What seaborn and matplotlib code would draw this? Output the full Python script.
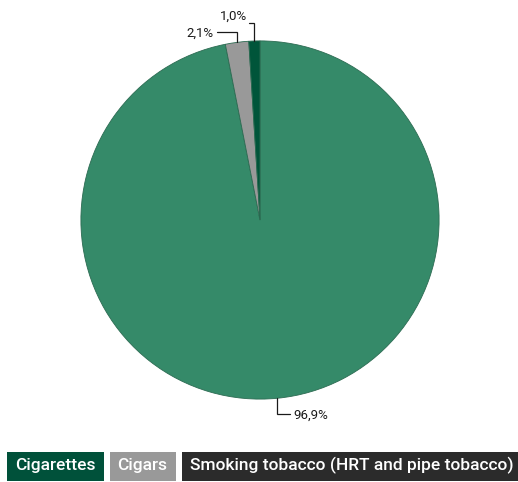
import matplotlib
matplotlib.use("Agg")
import matplotlib.pyplot as plt
from matplotlib.patches import Rectangle
import seaborn as sns
import numpy as np

# Share of tobacco consumption by product type
categories = ["Cigarettes", "Cigars", "Smoking tobacco (HRT and pipe tobacco)"]
shares = [96.9, 2.1, 1.0]
slice_colors = ["#358a69", "#999999", "#00553a"]
legend_colors = ["#00513a", "#999999", "#2b2b2b"]

sns.set_theme(style="white")
plt.rcParams["font.family"] = ["Roboto", "DejaVu Sans"]

W, H = 518, 482
fig = plt.figure(figsize=(W / 100, H / 100), dpi=100)
ax = fig.add_axes([80 / W, 82 / H, 360 / W, 360 / H])

wedges, _ = ax.pie(
    shares,
    colors=slice_colors,
    startangle=90,
    counterclock=False,
    radius=0.995,
    wedgeprops=dict(edgecolor="#2c6b52", linewidth=0.6),
)
ax.set_xlim(-1, 1)
ax.set_ylim(-1, 1)
ax.set_aspect("equal")
ax.axis("off")

# (text x, text y, alignment, elbow y, line end x) in data units
label_layout = [
    (0.183, -1.083, "left", -1.078, 0.165),
    (-0.256, 1.039, "right", 1.044, -0.239),
    (-0.072, 1.133, "right", 1.094, -0.061),
]

for w, val, (tx, ty, ha, ey, ex) in zip(wedges, shares, label_layout):
    mid = np.deg2rad((w.theta1 + w.theta2) / 2)
    r = w.r
    ax0, ay0 = r * np.cos(mid), r * np.sin(mid)
    ax.plot([ax0, ax0, ex], [ay0, ey, ey], color="#1a1a1a", lw=0.9,
            clip_on=False, solid_joinstyle="miter")
    ax.text(tx, ty, f"{val:.1f}%".replace(".", ","), ha=ha, va="center",
            fontsize=9.5, color="#1a1a1a")

# Legend rendered as coloured label boxes along the bottom
fig.canvas.draw()
renderer = fig.canvas.get_renderer()
box_y0, box_h = H - 481, 29
pad = 8
x = 7
for i, (name, col) in enumerate(zip(categories, legend_colors)):
    t = fig.text((x + pad) / W, (box_y0 + box_h / 2 + 1) / H, name,
                 ha="left", va="center", fontsize=12.5, fontweight="medium",
                 color="white", zorder=3)
    bb = t.get_window_extent(renderer=renderer)
    width = bb.width + 2 * pad if i < len(categories) - 1 else W - x
    fig.patches.append(Rectangle((x / W, box_y0 / H), width / W, box_h / H,
                                 transform=fig.transFigure, facecolor=col,
                                 edgecolor="none", zorder=2))
    x += width + 6

fig.savefig("out.png", dpi=100)
